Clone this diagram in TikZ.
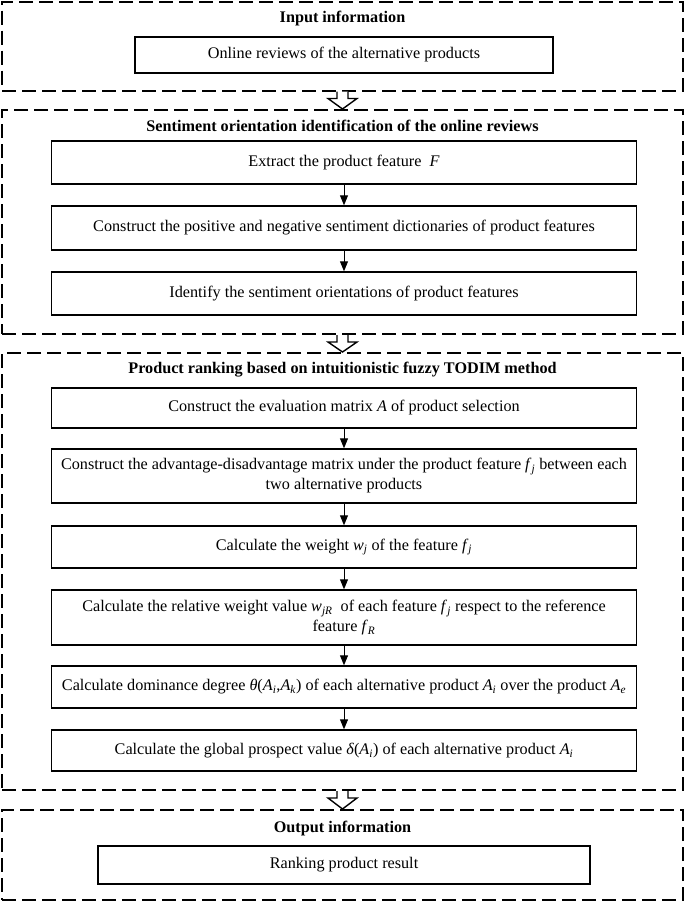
\documentclass[tikz,border=0pt]{standalone}
\usepackage{fontspec}
\setmainfont{Liberation Serif}
\usetikzlibrary{arrows.meta}
\newcommand{\fv}[1]{\textit{#1}}
\newcommand{\fvs}[2]{\textit{#1}\textsubscript{\textit{#2}}}
\tikzset{
  panel/.style={draw, line width=2pt, dash pattern=on 14pt off 6pt, minimum width=681pt, inner sep=0pt},
  ptitle/.style={font=\fontsize{16.2}{19}\selectfont\bfseries},
  stepbox/.style={draw, line width=1.4pt, minimum width=585pt, minimum height=#1, align=center, inner sep=2pt, font=\fontsize{16.2}{20}\selectfont},
  stepbox/.default=42pt,
  flow/.style={-{Triangle[length=10pt,width=8pt]}, line width=1pt},
  hollow/.style={draw, fill=white, line width=1.4pt}
}
\begin{document}
\begin{tikzpicture}[x=1pt, y=-1pt]
\useasboundingbox (0,0) rectangle (685,903);
% panels
\node[panel, minimum height=89pt] (p1) at (342.5,46) {};
\node[panel, minimum height=224pt] (p2) at (342.5,222) {};
\node[panel, minimum height=437pt] (p3) at (342.5,571.5) {};
\node[panel, minimum height=90pt] (p4) at (342.5,855) {};
% titles
\node[ptitle] (t1) at (342.5,19) {Input information};
\node[ptitle] (t2) at (342.5,126) {Sentiment orientation identification of the online reviews};
\node[ptitle] (t3) at (342.5,370) {Product ranking based on intuitionistic fuzzy TODIM method};
\node[ptitle] (t4) at (342.5,829) {Output information};
% input and output
\node[stepbox=36pt, minimum width=418pt] (in) at (344,55) {Online reviews of the alternative products};
\node[stepbox=38pt, minimum width=492pt] (out) at (344,865) {Ranking product result};
% sentiment steps
\node[stepbox=43pt] (s1) at (344,162.5) {Extract the product feature~ \fv{F}};
\node[stepbox=44pt] (s2) at (344,228) {Construct the positive and negative sentiment dictionaries of product features};
\node[stepbox=43pt] (s3) at (344,293.5) {Identify the sentiment orientations of product features};
% ranking steps
\node[stepbox=40pt] (r1) at (344,408) {Construct the evaluation matrix \fv{A} of product selection};
\node[stepbox=54pt] (r2) at (344,476) {Construct the advantage-disadvantage matrix under the product feature \fvs{f}{j} between each\\two alternative products};
\node[stepbox=42pt] (r3) at (344,547) {Calculate the weight \fvs{w}{j} of the feature \fvs{f}{j}};
\node[stepbox=55pt] (r4) at (344,617.5) {Calculate the relative weight value \fvs{w}{jR}~ of each feature \fvs{f}{j} respect to the reference\\feature \fvs{f}{R}};
\node[stepbox=42pt] (r5) at (344,687) {Calculate dominance degree \fv{θ}(\fvs{A}{i},\fvs{A}{k}) of each alternative product \fv{A\textsubscript{i}} over the product \fv{A\textsubscript{e}}};
\node[stepbox=41pt] (r6) at (344,750.5) {Calculate the global prospect value \fv{δ}(\fvs{A}{i}) of each alternative product \fv{A\textsubscript{i}}};
% arrows inside panels
\foreach \a/\b in {s1/s2, s2/s3, r1/r2, r2/r3, r3/r4, r4/r5, r5/r6}
  \draw[flow] (\a) -- (\b);
% hollow arrows between panels
\foreach \a/\b in {p1/p2, p2/p3, p3/p4}
  \draw[hollow] ([xshift=-5.5pt]\a.south) -- ([xshift=-5.5pt,yshift=-7pt]\a.south)
    -- ([xshift=-14.5pt,yshift=-7pt]\a.south) -- (\b.north)
    -- ([xshift=14.5pt,yshift=-7pt]\a.south) -- ([xshift=5.5pt,yshift=-7pt]\a.south)
    -- ([xshift=5.5pt]\a.south);
\end{tikzpicture}
\end{document}
